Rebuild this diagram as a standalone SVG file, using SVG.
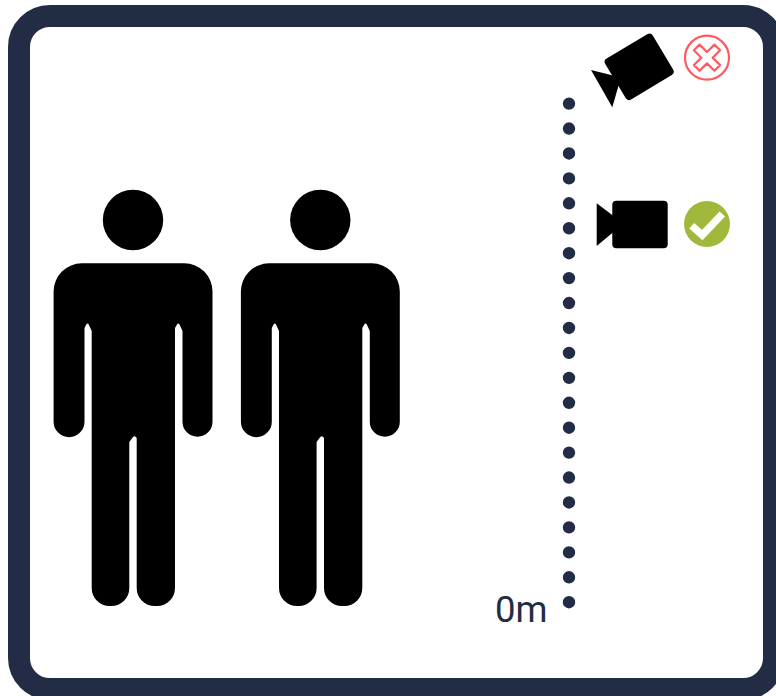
<svg xmlns="http://www.w3.org/2000/svg" xmlns:xlink="http://www.w3.org/1999/xlink" width="776" height="696" viewBox="0 0 776 696">
<style>
.frame{fill:#fff;stroke:#222d45;stroke-width:22}
.ink{fill:#000}
.label{font-family:Roboto,"Liberation Sans",sans-serif;font-size:36.5px;fill:#222d45}
.dots{fill:none;stroke:#222d45;stroke-width:12.4;stroke-linecap:round;stroke-dasharray:0 24.93}
</style>
<defs>
<g id="person">
<circle class="ink" cx="133" cy="220" r="30.2"/>
<path class="ink" d="M82,263.3 H184.3 A28.2,28.2 0 0 1 212.5,291.5 V421.7 A15,15 0 0 1 182.5,421.7 V331 L179.5,324.5 Q178.2,322.5 177,324.5 L175,328 V588 A18,18 0 0 1 157,606 H154.7 A18,18 0 0 1 136.7,588 V438 Q135,435.3 133,437 L129.3,442 V588 A18,18 0 0 1 111.3,606 H109.7 A18,18 0 0 1 91.7,588 V331 L88.7,324.5 Q87.5,322.5 86.3,324.5 L84.5,328 V421.7 A15.3,15.3 0 0 1 53.6,421.7 V291.5 A28.2,28.2 0 0 1 82,263.3 Z"/>
</g>
</defs>
<rect id="frame" class="frame" x="19" y="16" width="755" height="673" rx="31" ry="31"/>
<g id="connectors">
<path class="dots" d="M569,103.6 V602.3"/>
</g>
<g id="person-1"><use href="#person" xlink:href="#person"/></g>
<g id="person-2"><use href="#person" xlink:href="#person" x="187.3"/></g>
<g id="label-0m"><text class="label" x="495" y="622">0m</text></g>
<g id="camera-tilted">
<rect class="ink" x="611.5" y="43" width="55.4" height="47.6" rx="4" transform="rotate(-31 639.2 66.8)"/>
<polygon class="ink" points="591,70 613,75.5 619,84 612.3,107.3"/>
</g>
<g id="camera-level">
<rect class="ink" x="612.3" y="200.7" width="55.4" height="47.6" rx="4"/>
<polygon class="ink" points="596.7,203.3 613.5,216 613.5,232 596.7,246"/>
</g>
<g id="icon-cross">
<circle cx="707" cy="57.7" r="22" fill="#fff" stroke="#ff5a5f" stroke-width="2.2"/>
<path transform="translate(707 57.7) rotate(45)" d="M-4,-14.5 H4 V-4 H14.5 V4 H4 V14.5 H-4 V4 H-14.5 V-4 H-4 Z" fill="#fff" stroke="#ff5a5f" stroke-width="2.2" stroke-linejoin="round"/>
</g>
<g id="icon-check">
<circle cx="707" cy="224" r="23" fill="#a0b93c"/>
<path d="M691.7,225.7 L702.3,235 L722.3,214" fill="none" stroke="#fff" stroke-width="7.5"/>
</g>
</svg>
